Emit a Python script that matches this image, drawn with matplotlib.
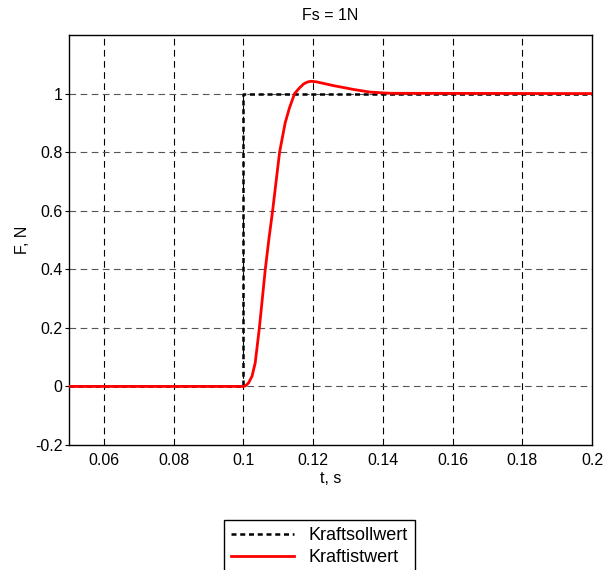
import matplotlib
matplotlib.use("Agg")
import matplotlib.pyplot as plt

plt.rcParams['font.family'] = ['Liberation Sans', 'DejaVu Sans']

# Setpoint (Kraftsollwert)
t_soll = [0.05, 0.1, 0.1, 0.2]
f_soll = [0.0, 0.0, 1.0, 1.0]

# Actual value (Kraftistwert)
t_ist = [0.05, 0.1, 0.1006, 0.1015, 0.1025, 0.1034, 0.1046, 0.1063, 0.1073,
         0.1084, 0.1094, 0.1104, 0.1120, 0.1132, 0.1147, 0.1160, 0.1173,
         0.1185, 0.1195, 0.1210, 0.1225, 0.1259, 0.1290, 0.1316, 0.1364,
         0.1421, 0.2]
f_ist = [0.0, 0.0, 0.002, 0.012, 0.035, 0.08, 0.2, 0.4, 0.5,
         0.6, 0.7, 0.8, 0.9, 0.95, 1.0, 1.018, 1.033,
         1.040, 1.042, 1.040, 1.036, 1.027, 1.020, 1.014, 1.005,
         1.001, 1.0]

xticks = [0.06, 0.08, 0.1, 0.12, 0.14, 0.16, 0.18, 0.2]
xticklabels = ['0.06', '0.08', '0.1', '0.12', '0.14', '0.16', '0.18', '0.2']
yticks = [-0.2, 0, 0.2, 0.4, 0.6, 0.8, 1]
yticklabels = ['-0.2', '0', '0.2', '0.4', '0.6', '0.8', '1']

fig = plt.figure(figsize=(6.03, 5.70), dpi=100)
ax = fig.add_axes([69/603, 1-445/570, (592-69)/603, (445-35)/570])

ax.set_xlim(0.05, 0.2)
ax.set_ylim(-0.2, 1.2)
ax.set_xticks(xticks)
ax.set_xticklabels(xticklabels)
ax.set_yticks(yticks)
ax.set_yticklabels(yticklabels)

for x in xticks[:-1]:
    ax.axvline(x, color='black', lw=0.8, ls=(0, (6, 4)), zorder=1)
for y in yticks[1:]:
    ax.axhline(y, color='#555555', lw=0.8, ls=(0, (6, 4)), zorder=1)

l1, = ax.plot(t_soll, f_soll, color='black', lw=1.8, ls=(0, (2, 1.5)),
              label='Kraftsollwert', zorder=3)
l2, = ax.plot(t_ist, f_ist, color='red', lw=2.0, label='Kraftistwert', zorder=4)

ax.tick_params(axis='x', direction='in', length=0, labelsize=11.5, pad=6)
ax.tick_params(axis='y', direction='out', length=3, labelsize=11.5, pad=1.5)
for s in ax.spines.values():
    s.set_linewidth(1.0)

ax.set_title('Fs = 1N', fontsize=11.5, pad=11)
ax.set_xlabel('t, s', fontsize=11.5, labelpad=2)
ax.set_ylabel('F, N', fontsize=11.5, labelpad=4)

leg = fig.legend(handles=[l1, l2], loc='upper center',
                 bbox_to_anchor=(319.5/603, 1-520/570), fontsize=13,
                 frameon=True, fancybox=False, edgecolor='black', framealpha=1,
                 handlelength=3.5, handletextpad=0.8, labelspacing=0.3,
                 borderpad=0.38, borderaxespad=0)
leg.get_frame().set_linewidth(1.0)

fig.savefig('out.png', dpi=100)
